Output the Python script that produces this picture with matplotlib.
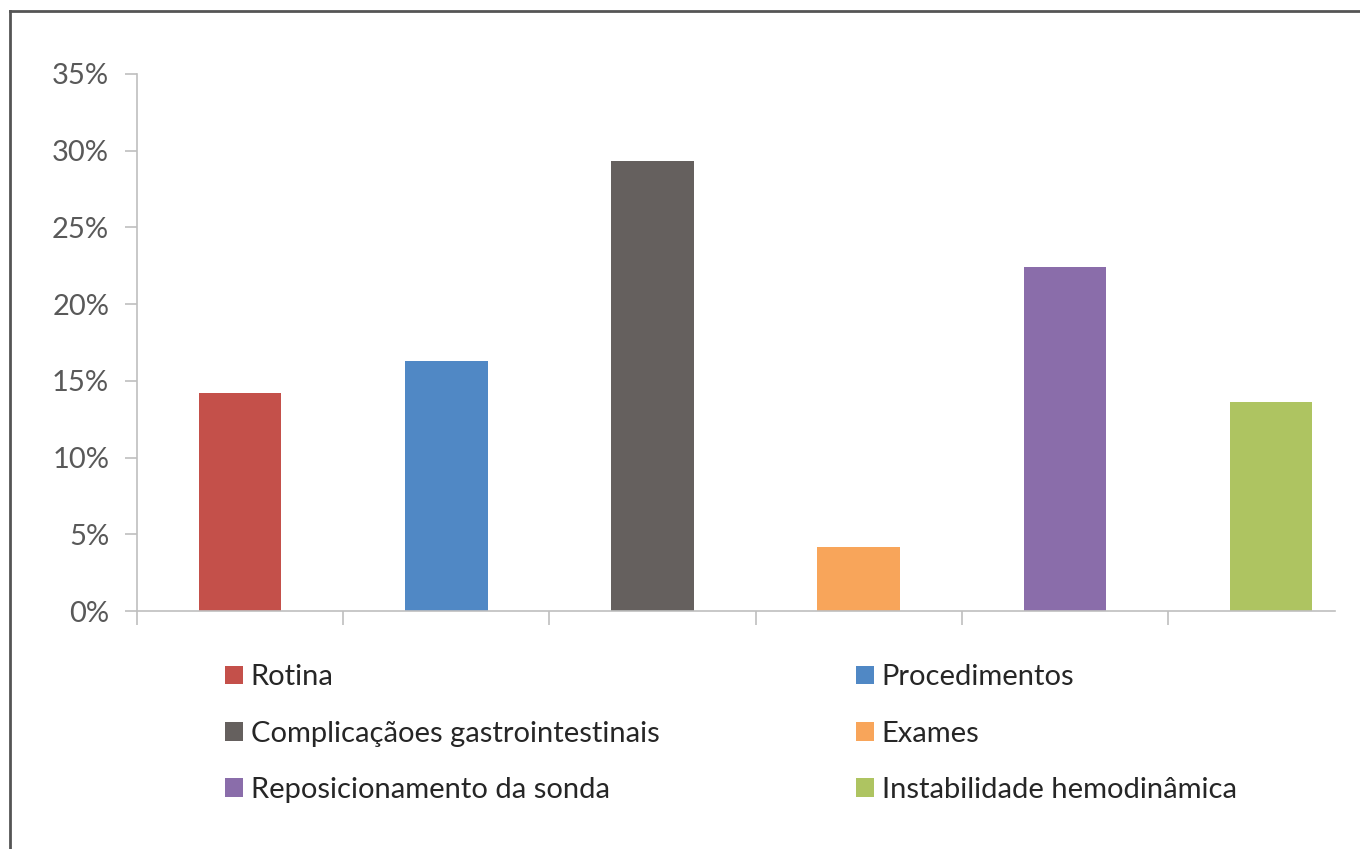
import matplotlib.pyplot as plt
from matplotlib.lines import Line2D
from matplotlib.patches import Patch
from matplotlib.ticker import FuncFormatter

categories = ["Rotina", "Procedimentos", "Complicaçãoes gastrointestinais",
              "Exames", "Reposicionamento da sonda", "Instabilidade hemodinâmica"]
values = [14.2, 16.3, 29.3, 4.2, 22.4, 13.6]
colors = ["#C4504A", "#5088C5", "#65605E", "#F8A55A", "#8A6DAA", "#AEC461"]
y_ticks = [0, 5, 10, 15, 20, 25, 30, 35]

plt.rcParams['font.family'] = ['Lato', 'DejaVu Sans']

W, H = 1360, 849
fig = plt.figure(figsize=(W / 100, H / 100), dpi=100)
ax = fig.add_axes([137 / W, 1 - 611 / H, (1335 - 137) / W, (611 - 74) / H])

x = list(range(len(categories)))
ax.bar(x, values, width=0.4, color=colors)

axis_grey = "#BFBFBF"
ax.set_xlim(-0.5, 5.31)
ax.set_ylim(0, 35)
ax.set_yticks(y_ticks)
ax.yaxis.set_major_formatter(FuncFormatter(lambda v, p: f"{v:.0f}%"))
ax.set_xticks([i - 0.5 for i in x])
ax.set_xticklabels([])
ax.tick_params(axis='y', colors=axis_grey, labelcolor="#595959", labelsize=21,
               length=9, width=1.2, pad=11)
ax.tick_params(axis='x', colors=axis_grey, length=10, width=1.2)
for side in ("top", "right"):
    ax.spines[side].set_visible(False)
for side in ("left", "bottom"):
    ax.spines[side].set_color(axis_grey)
    ax.spines[side].set_linewidth(1.2)

# legend laid out row by row, two columns
order = [0, 2, 4, 1, 3, 5]
handles = [Patch(facecolor=colors[i], edgecolor="none") for i in order]
labels = [categories[i] for i in order]
fig.legend(handles, labels, ncol=2, loc="upper left",
           bbox_to_anchor=(199 / W, 1 - 638 / H), frameon=False,
           fontsize=21, handlelength=0.62, handleheight=0.62,
           handletextpad=0.25, columnspacing=6.75, labelspacing=1.04,
           labelcolor="#262626")

# outer frame around the chart
frame_kw = dict(color="#555555", linewidth=2, transform=fig.transFigure)
fig.add_artist(Line2D([10 / W, 10 / W], [0, 1 - 11 / H], **frame_kw))
fig.add_artist(Line2D([10 / W, 1], [1 - 11 / H, 1 - 11 / H], **frame_kw))

fig.savefig("out.png", dpi=100)
